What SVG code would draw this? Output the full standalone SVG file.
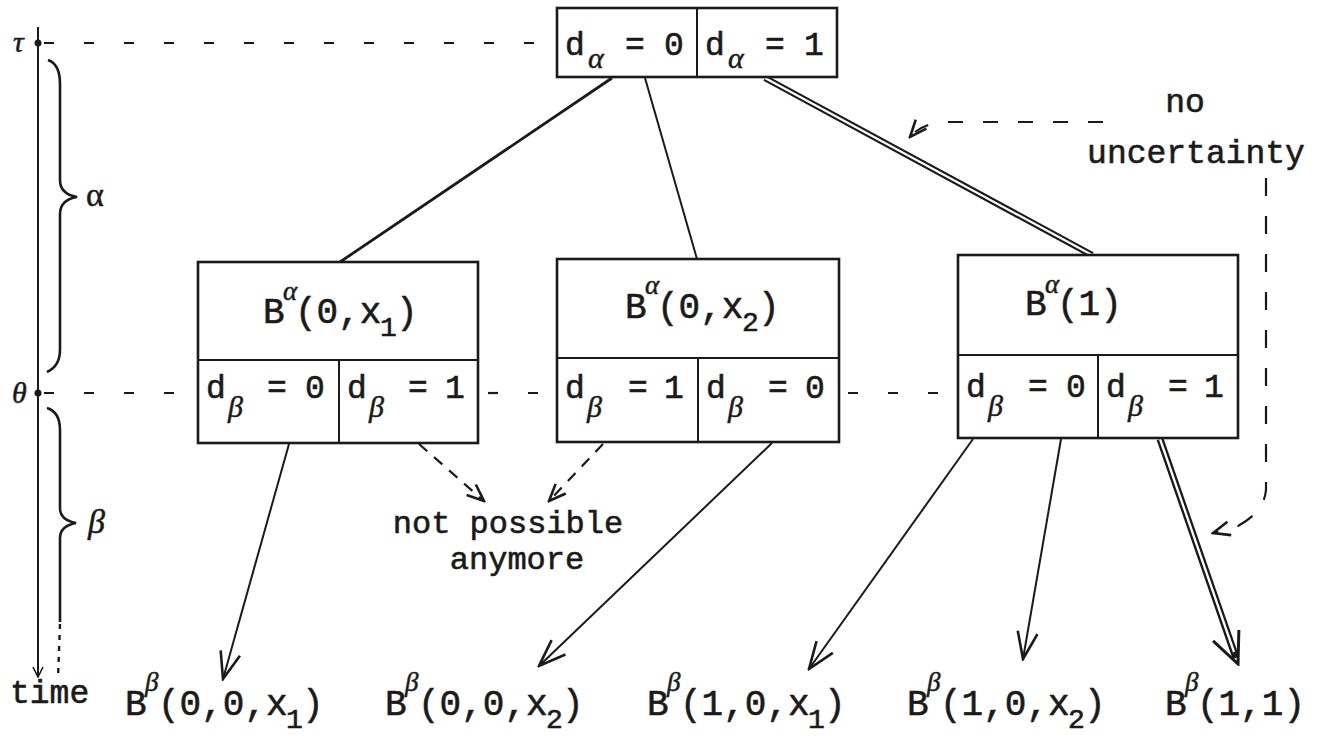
<svg xmlns="http://www.w3.org/2000/svg" width="1318" height="740" viewBox="0 0 1318 740">
<style>
.m{font-family:"Liberation Mono","Courier New",monospace;font-size:33px;fill:#1a1a1a;stroke:#1a1a1a;stroke-width:0.6}
.L{font-size:36px}
.s{font-size:28px}
.n{font-size:32px}
.g{font-family:"Liberation Serif","Times New Roman",serif;font-style:italic;font-size:30px;fill:#1a1a1a;stroke:#1a1a1a;stroke-width:0.5}
.sp{font-size:27px}
.gl{font-size:34px}
.box{fill:#fff;stroke:#1a1a1a;stroke-width:2.6}
.div{stroke:#1a1a1a;stroke-width:2;fill:none}
.ln{stroke:#1a1a1a;stroke-width:2;fill:none}
.br{stroke:#1a1a1a;stroke-width:2.6;fill:none}
.dash{stroke:#1a1a1a;stroke-width:2.2;fill:none;stroke-dasharray:10 30}
.dsh{stroke:#1a1a1a;stroke-width:2.2;fill:none}
</style>
<defs>
<marker id="ah" markerUnits="userSpaceOnUse" markerWidth="30" markerHeight="26" viewBox="0 0 30 26" refX="28" refY="13" orient="auto"><path d="M1,3 L28,13 L1,23" fill="none" stroke="#1a1a1a" stroke-width="2.6"/></marker>
<marker id="ah2" markerUnits="userSpaceOnUse" markerWidth="34" markerHeight="34" viewBox="0 0 34 34" refX="32" refY="17" orient="auto"><path d="M1,3 L32,17 L1,31" fill="none" stroke="#1a1a1a" stroke-width="3"/></marker>
<marker id="dh" markerUnits="userSpaceOnUse" markerWidth="20" markerHeight="18" viewBox="0 0 20 18" refX="18" refY="9" orient="auto"><path d="M1,2 L18,9 L1,16" fill="none" stroke="#1a1a1a" stroke-width="2.6"/></marker>
<marker id="sh" markerUnits="userSpaceOnUse" markerWidth="12" markerHeight="12" viewBox="0 0 12 12" refX="11" refY="6" orient="auto"><path d="M1,1 L11,6 L1,11" fill="none" stroke="#1a1a1a" stroke-width="1.6"/></marker>
</defs>

<g id="axis">
<line class="ln" x1="38" y1="27" x2="38" y2="677" marker-end="url(#sh)"/>
<circle cx="38" cy="43" r="3.5" fill="#1a1a1a"/>
<circle cx="38" cy="393" r="3.5" fill="#1a1a1a"/>
<text class="g" x="13" y="52">τ</text>
<text class="g" x="12" y="403">θ</text>
<path class="br" d="M48,60 Q60,64 60,84 L60,180 Q60,194 77,197 Q60,200 60,214 L60,350 Q60,366 47,372"/>
<text class="g gl" x="86" y="206" style="font-style:normal">α</text>
<path class="br" d="M47,408 Q60,412 60,430 L60,508 Q60,520 76,523 Q60,526 60,538 L60,622"/>
<line x1="60" y1="624" x2="58" y2="678" stroke="#1a1a1a" stroke-width="2.4" stroke-dasharray="5 6"/>
<text class="g gl" x="88" y="533">β</text>
<text class="m" x="10" y="703">time</text>
</g>

<g id="guides">
<line class="dash" x1="44" y1="43" x2="556" y2="43"/>
<line class="dash" x1="44" y1="393" x2="197" y2="393"/>
<line class="dash" x1="488" y1="393" x2="556" y2="393"/>
<line class="dash" x1="848" y1="393" x2="957" y2="393"/>
</g>

<g id="connectors">
<line x1="612" y1="78" x2="340" y2="262" stroke="#1a1a1a" stroke-width="2.8"/>
<line class="ln" x1="645" y1="78" x2="697" y2="259"/>
<line x1="765" y1="78" x2="1092" y2="255" stroke="#1a1a1a" stroke-width="6.5"/>
<line x1="765" y1="78" x2="1092" y2="255" stroke="#fff" stroke-width="2.2"/>
<line class="ln" x1="289" y1="444" x2="223" y2="679" marker-end="url(#ah)"/>
<line class="ln" x1="772" y1="443" x2="539" y2="666" marker-end="url(#ah)"/>
<line class="ln" x1="973" y1="439" x2="809" y2="669" marker-end="url(#ah)"/>
<line class="ln" x1="1061" y1="439" x2="1023" y2="659" marker-end="url(#ah)"/>
<line x1="1160" y1="439" x2="1236" y2="658" stroke="#1a1a1a" stroke-width="7"/>
<line x1="1160" y1="439" x2="1234" y2="652" stroke="#fff" stroke-width="2.3"/>
<line x1="1230" y1="645" x2="1238" y2="664" stroke="#1a1a1a" stroke-width="0.1" marker-end="url(#ah2)"/>
<line class="dsh" x1="419" y1="444" x2="484" y2="501" stroke-dasharray="11 9" marker-end="url(#dh)"/>
<line class="dsh" x1="603" y1="444" x2="549" y2="501" stroke-dasharray="11 9" marker-end="url(#dh)"/>
<path class="dsh" d="M1103,122 L945,122 Q922,123 910,137" stroke-dasharray="15 20" marker-end="url(#dh)"/>
<path class="dsh" d="M1266,178 L1266,490 Q1264,512 1238,526 L1213,533" stroke-dasharray="18 20" marker-end="url(#dh)"/>
</g>

<g id="top">
<rect class="box" x="557" y="8" width="280" height="69"/>
<line class="div" x1="697" y1="8" x2="697" y2="77"/>
<text class="m" x="565" y="55">d</text><text class="g" x="588" y="68">α</text><text class="m" x="625" y="55">=</text><text class="m" x="664" y="55">0</text>
<text class="m" x="705" y="55">d</text><text class="g" x="728" y="68">α</text><text class="m" x="765" y="55">=</text><text class="m" x="804" y="55">1</text>
</g>

<g id="box1">
<rect class="box" x="198" y="262" width="280" height="181"/>
<line class="div" x1="198" y1="360" x2="478" y2="360"/>
<line class="div" x1="339" y1="360" x2="339" y2="443"/>
<text class="m L" x="263" y="323">B</text><text class="g sp" x="283" y="300">α</text><text class="m L" x="295" y="323">(0,x</text><text class="m s" x="380" y="336">1</text><text class="m L" x="396" y="323">)</text>
<text class="m" x="206" y="398">d</text><text class="g" x="228" y="417">β</text><text class="m" x="267" y="398">=</text><text class="m" x="305" y="398">0</text>
<text class="m" x="347" y="398">d</text><text class="g" x="369" y="417">β</text><text class="m" x="408" y="398">=</text><text class="m" x="445" y="398">1</text>
</g>

<g id="box2">
<rect class="box" x="557" y="259" width="282" height="183"/>
<line class="div" x1="557" y1="358" x2="839" y2="358"/>
<line class="div" x1="698" y1="358" x2="698" y2="442"/>
<text class="m L" x="625" y="318">B</text><text class="g sp" x="645" y="294">α</text><text class="m L" x="657" y="318">(0,x</text><text class="m s" x="742" y="331">2</text><text class="m L" x="758" y="318">)</text>
<text class="m" x="565" y="398">d</text><text class="g" x="587" y="417">β</text><text class="m" x="628" y="398">=</text><text class="m" x="664" y="398">1</text>
<text class="m" x="706" y="398">d</text><text class="g" x="728" y="417">β</text><text class="m" x="768" y="398">=</text><text class="m" x="805" y="398">0</text>
</g>

<g id="box3">
<rect class="box" x="958" y="255" width="280" height="183"/>
<line class="div" x1="958" y1="355" x2="1238" y2="355"/>
<line class="div" x1="1098" y1="355" x2="1098" y2="438"/>
<text class="m L" x="1025" y="315">B</text><text class="g sp" x="1045" y="293">α</text><text class="m L" x="1057" y="315">(1)</text>
<text class="m" x="966" y="397">d</text><text class="g" x="988" y="416">β</text><text class="m" x="1028" y="397">=</text><text class="m" x="1066" y="397">0</text>
<text class="m" x="1106" y="397">d</text><text class="g" x="1128" y="416">β</text><text class="m" x="1168" y="397">=</text><text class="m" x="1204" y="397">1</text>
</g>

<g id="notes">
<text class="m n" x="508" y="533" text-anchor="middle">not possible</text>
<text class="m n" x="517" y="569" text-anchor="middle">anymore</text>
<text class="m" x="1185" y="112" text-anchor="middle">no</text>
<text class="m" x="1196" y="163" text-anchor="middle">uncertainty</text>
</g>

<g id="leaf1"><text class="m L" x="125" y="715">B</text><text class="g sp" x="145" y="691">β</text><text class="m L" x="158" y="715">(0,0,x</text><text class="m s" x="286" y="728">1</text><text class="m L" x="302" y="715">)</text></g>
<g id="leaf2"><text class="m L" x="385" y="715">B</text><text class="g sp" x="405" y="691">β</text><text class="m L" x="418" y="715">(0,0,x</text><text class="m s" x="546" y="728">2</text><text class="m L" x="562" y="715">)</text></g>
<g id="leaf3"><text class="m L" x="647" y="715">B</text><text class="g sp" x="667" y="691">β</text><text class="m L" x="680" y="715">(1,0,x</text><text class="m s" x="808" y="728">1</text><text class="m L" x="824" y="715">)</text></g>
<g id="leaf4"><text class="m L" x="907" y="715">B</text><text class="g sp" x="927" y="691">β</text><text class="m L" x="940" y="715">(1,0,x</text><text class="m s" x="1068" y="728">2</text><text class="m L" x="1084" y="715">)</text></g>
<g id="leaf5"><text class="m L" x="1165" y="715">B</text><text class="g sp" x="1185" y="691">β</text><text class="m L" x="1197" y="715">(1,1)</text></g>
</svg>
